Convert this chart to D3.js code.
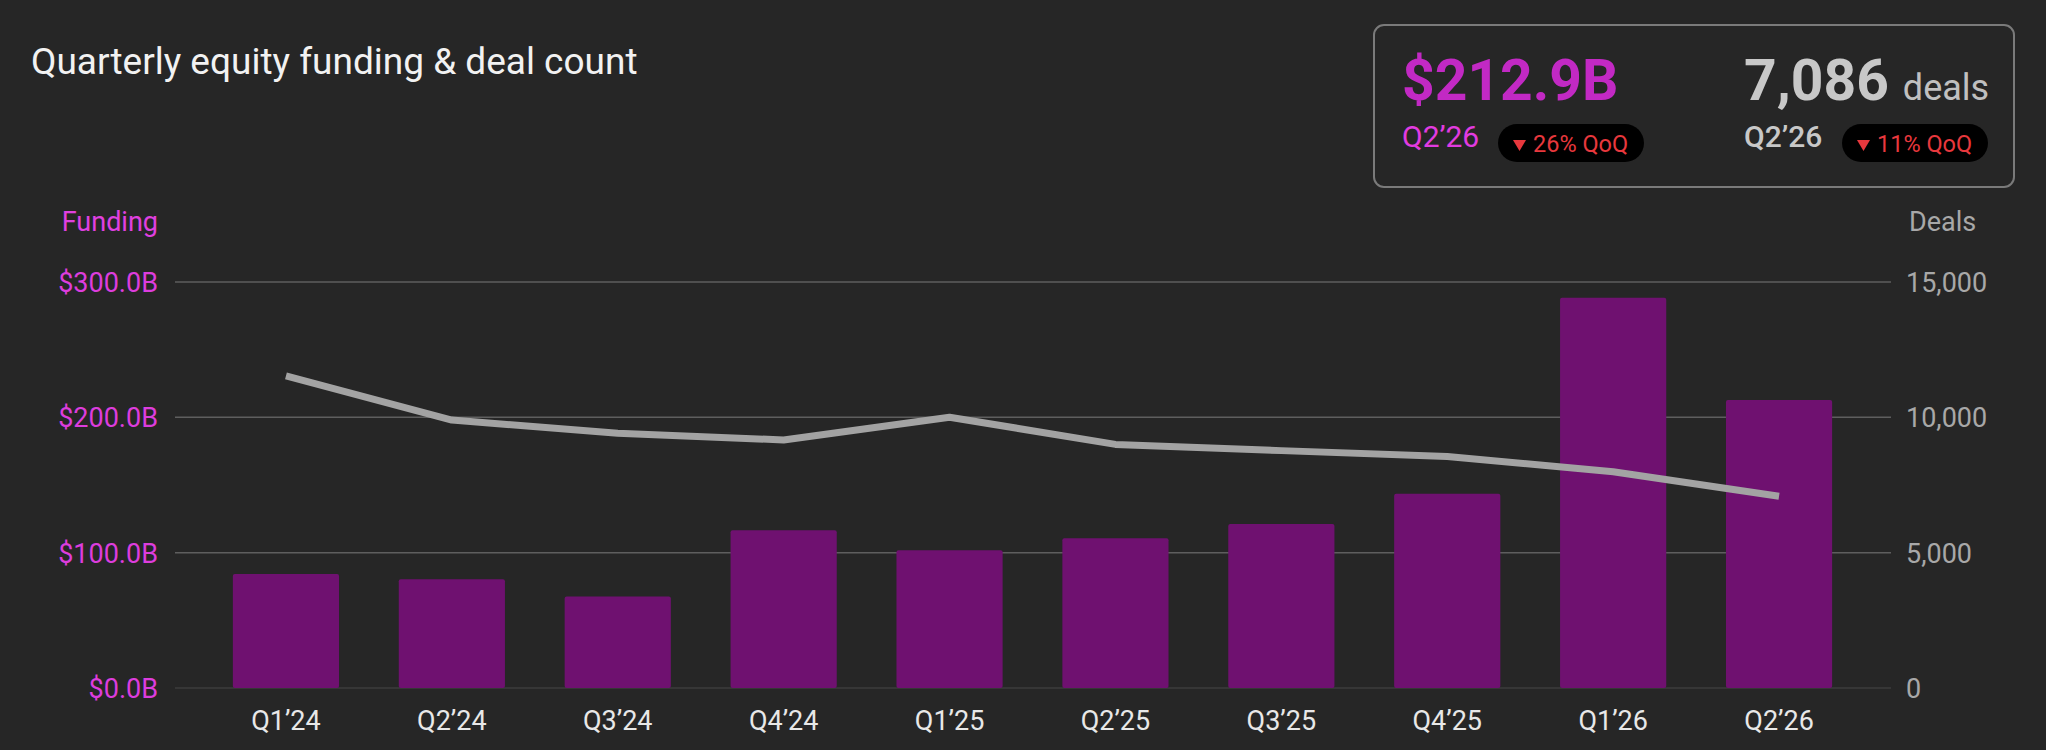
<!DOCTYPE html>
<html>
<head>
<meta charset="utf-8">
<script src="https://cdn.jsdelivr.net/npm/d3@7"></script>
<style>
  html, body { margin: 0; padding: 0; background: #262626; }
  svg { display: block; font-family: Roboto, "Noto Sans", sans-serif; }
</style>
</head>
<body>
<svg id="chart" width="2046" height="750"></svg>
<script>
const quarters = ["Q1\u201924","Q2\u201924","Q3\u201924","Q4\u201924","Q1\u201925","Q2\u201925","Q3\u201925","Q4\u201925","Q1\u201926","Q2\u201926"];
const funding = [84.2, 80.3, 67.7, 116.5, 101.7, 110.6, 121.2, 143.6, 288.4, 212.9];
const deals = [11530, 9900, 9410, 9165, 10005, 9000, 8770, 8550, 7990, 7086];
const fundingTicks = [0, 100, 200, 300];
const dealTicks = [0, 5000, 10000, 15000];
const titleText = "Quarterly equity funding & deal count";
const kpiFunding = "$212.9B";
const kpiDeals = "7,086";
const kpiPeriod = "Q2\u201926";
const kpiFundingChange = "26% QoQ";
const kpiDealsChange = "11% QoQ";

const svg = d3.select("#chart");
const W = 2046, H = 750;
svg.append("rect").attr("width", W).attr("height", H).attr("fill", "#262626");

const gridX0 = 175, gridX1 = 1891;
const x = d3.scaleBand().domain(quarters).range([203, 1862]).paddingInner(0.36).paddingOuter(0.18);
const yL = d3.scaleLinear().domain([0, 300]).range([688, 282]);
const yR = d3.scaleLinear().domain([0, 15000]).range([688, 282]);

// title
svg.append("text").attr("x", 31).attr("y", 74).attr("fill", "#f2f2f2")
  .attr("font-size", 37).text(titleText);

// gridlines
svg.append("g").selectAll("line").data(fundingTicks.filter(d => d > 0)).join("line")
  .attr("x1", gridX0).attr("x2", gridX1)
  .attr("y1", d => yL(d)).attr("y2", d => yL(d))
  .attr("stroke", "#5e5e5e").attr("stroke-width", 1.5);
svg.append("line").attr("x1", gridX0).attr("x2", gridX1)
  .attr("y1", yL(0)).attr("y2", yL(0))
  .attr("stroke", "#3c3c3c").attr("stroke-width", 1.5);

// left axis labels
const leftAxis = d3.axisLeft(yL).tickValues(fundingTicks).tickSize(0).tickPadding(0)
  .tickFormat(d => "$" + d3.format(".1f")(d) + "B");
const gL = svg.append("g").attr("transform", `translate(158,0)`).call(leftAxis);
gL.select(".domain").remove();
gL.selectAll("text").attr("fill", "#dd3ddd").attr("font-size", 27)
  .attr("font-family", "Roboto, sans-serif").attr("dy", "0.35em");
svg.append("text").attr("x", 158).attr("y", 231).attr("text-anchor", "end")
  .attr("fill", "#e040e0").attr("font-size", 27).text("Funding");

// right axis labels
const rightAxis = d3.axisRight(yR).tickValues(dealTicks).tickSize(0).tickPadding(0)
  .tickFormat(d3.format(","));
const gR = svg.append("g").attr("transform", `translate(1906,0)`).call(rightAxis);
gR.select(".domain").remove();
gR.selectAll("text").attr("fill", "#a8a8a8").attr("font-size", 27)
  .attr("font-family", "Roboto, sans-serif").attr("dy", "0.35em");
svg.append("text").attr("x", 1909).attr("y", 231)
  .attr("fill", "#a8a8a8").attr("font-size", 27).text("Deals");

// bars
svg.append("g").selectAll("rect").data(quarters).join("rect")
  .attr("x", d => x(d)).attr("width", x.bandwidth())
  .attr("y", (d, i) => yL(funding[i]))
  .attr("height", (d, i) => yL(0) - yL(funding[i]))
  .attr("rx", 2)
  .attr("fill", "#6f1170");

// x labels
const bottomAxis = d3.axisBottom(x).tickSize(0).tickPadding(0);
const gB = svg.append("g").attr("transform", `translate(0,730)`).call(bottomAxis);
gB.select(".domain").remove();
gB.selectAll("text").attr("fill", "#e8e8e8").attr("font-size", 27)
  .attr("font-family", "Roboto, sans-serif").attr("dy", 0);

// deals line
const line = d3.line().x((d, i) => x(quarters[i]) + x.bandwidth() / 2).y(d => yR(d));
svg.append("path").datum(deals).attr("d", line)
  .attr("fill", "none").attr("stroke", "#a3a3a3").attr("stroke-width", 7)
  .attr("stroke-linejoin", "round").attr("stroke-linecap", "butt");

// KPI box
const kpi = svg.append("g");
kpi.append("rect").attr("x", 1374).attr("y", 25).attr("width", 640).attr("height", 162)
  .attr("rx", 10).attr("fill", "none").attr("stroke", "#7a7a7a").attr("stroke-width", 2);

kpi.append("text").attr("x", 1402).attr("y", 100).attr("fill", "#c229c4")
  .attr("font-size", 57).attr("font-weight", 700).text(kpiFunding);
kpi.append("text").attr("x", 1402).attr("y", 147).attr("fill", "#e23be0")
  .attr("font-size", 30).text(kpiPeriod);

const dv = kpi.append("text").attr("x", 1744).attr("y", 100).attr("fill", "#c8c8c8");
dv.append("tspan").attr("font-size", 57).attr("font-weight", 700).text(kpiDeals);
dv.append("tspan").attr("font-size", 36).attr("dx", 14).attr("fill", "#c0c0c0").text("deals");
kpi.append("text").attr("x", 1744).attr("y", 147).attr("fill", "#c8c8c8")
  .attr("font-size", 30).attr("font-weight", 500).text(kpiPeriod);

function pill(px, label) {
  const g = kpi.append("g").attr("transform", `translate(${px},124)`);
  g.append("rect").attr("width", 146).attr("height", 38).attr("rx", 19).attr("fill", "#000");
  g.append("path").attr("d", "M15,16 L28,16 L21.5,27 Z").attr("fill", "#e8383d");
  g.append("text").attr("x", 35).attr("y", 28).attr("fill", "#e8383d")
    .attr("font-size", 23.5).text(label);
}
pill(1498, kpiFundingChange);
pill(1842, kpiDealsChange);
</script>
</body>
</html>
